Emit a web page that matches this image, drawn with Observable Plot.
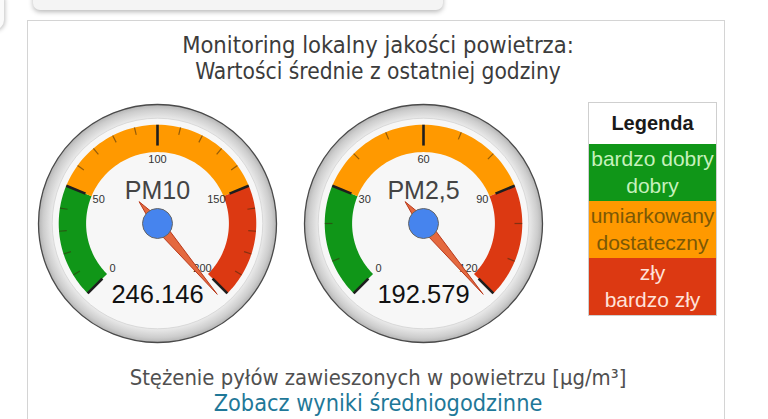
<!DOCTYPE html>
<html>
<head>
<meta charset="utf-8">
<script src="https://cdn.jsdelivr.net/npm/d3@7"></script>
<script src="https://cdn.jsdelivr.net/npm/@observablehq/plot@0.6"></script>
<style>
html,body{margin:0;padding:0;background:#fff;}
body{width:768px;height:419px;overflow:hidden;position:relative;font-family:"DejaVu Sans Condensed","DejaVu Sans",sans-serif;}
#topbar{position:absolute;left:33px;top:-22px;width:410px;height:32px;background:#f4f4f4;border-radius:7px;box-shadow:0 2px 5px rgba(0,0,0,0.28);}
#leftbit{position:absolute;left:-32px;top:-10px;width:36px;height:40px;border-radius:10px;background:#fafafa;box-shadow:1px 1px 4px rgba(0,0,0,0.25);}
#frame{position:absolute;left:27px;top:20px;width:698px;height:430px;border:1px solid #d4d4d4;box-sizing:border-box;}
.t{position:absolute;left:0;width:756px;text-align:center;white-space:nowrap;height:24px;line-height:24px;}
.t span{display:inline-block;}
#chart{position:absolute;left:24px;top:98px;}
#legend{position:absolute;left:588px;top:102px;width:129px;border:1px solid #cfcfcf;box-sizing:border-box;font-family:"Liberation Sans",Arial,sans-serif;text-align:center;white-space:nowrap;}
#legend .h{height:41px;line-height:41px;background:#fff;color:#1a1a1a;font-size:20px;font-weight:bold;}
#legend .c{height:57px;display:flex;flex-direction:column;justify-content:center;font-size:21px;line-height:26.5px;overflow:visible;}
</style>
</head>
<body>
<div id="topbar"></div>
<div id="leftbit"></div>
<div id="frame"></div>
<div class="t" id="t1" style="top:33px;color:#3c3c3c;"><span></span></div>
<div class="t" id="t2" style="top:59px;color:#3c3c3c;"><span></span></div>
<div id="chart"></div>
<div id="legend"></div>
<div class="t" id="c1" style="top:366px;color:#505050;"><span></span></div>
<div class="t" id="c2" style="top:391px;color:#1f7898;"><span></span></div>
<script>
// ---- data ----
const titleLines = ["Monitoring lokalny jakości powietrza:", "Wartości średnie z ostatniej godziny"];
const captionText = "Stężenie pyłów zawieszonych w powietrzu [µg/m³]";
const linkText = "Zobacz wyniki średniogodzinne";
const gauges = ["PM10", "PM2,5"];
const values = [246.146, 192.579];
const maxima = [200, 120];
const greenTo = [50, 30];
const redFrom = [150, 90];
const majorTicks = [[0, 50, 100, 150, 200], [0, 30, 60, 90, 120]];
const minorStep = [10, 10];
const bandColors = ["#109618", "#ff9900", "#dc3912"];
const legendTitle = "Legenda";
const legendLines = [["bardzo dobry", "dobry"], ["umiarkowany", "dostateczny"], ["zły", "bardzo zły"]];
const legendTextColors = ["#c6f1bd", "#7b5806", "#ffe2d9"];

// ---- texts ----
const setT = (id, txt, target, size) => {
  const s = document.querySelector("#" + id + " span");
  s.textContent = txt;
  s.style.fontSize = size + "px";
  const w = s.getBoundingClientRect().width;
  if (target && w > 0) s.style.fontSize = (size * target / w) + "px";
};
setT("t1", titleLines[0], 392, 17);
setT("t2", titleLines[1], 366, 17);
setT("c1", captionText, 497, 17);
setT("c2", linkText, 329, 17);

// ---- legend ----
const leg = document.getElementById("legend");
let html = `<div class="h">${legendTitle}</div>`;
legendLines.forEach((lines, i) => {
  html += `<div class="c" style="background:${bandColors[i]};color:${legendTextColors[i]}">${lines.map(l => `<div>${l}</div>`).join("")}</div>`;
});
leg.innerHTML = html;

// ---- gauge geometry (unit = outer radius) ----
const R = 119;              // px per unit
const XH = 133 / R, YH = 125 / R;
const BAND_IN = 0.6, BAND_OUT = 0.83, MAJOR_IN = 0.655, MINOR_IN = 0.765, LABEL_R = 0.535;
const ang = (v, max) => (-135 + 270 * v / max) * Math.PI / 180;
const pt = (v, max, r) => [r * Math.sin(ang(v, max)), r * Math.cos(ang(v, max))];

const gaugeRows = gauges.map((g, i) => ({g, value: values[i], max: maxima[i], cx: 0, cy: 0, ny: 0.275, vy: -0.6}));

const bandRows = [];
gauges.forEach((g, i) => {
  const edges = [0, greenTo[i], redFrom[i], maxima[i]];
  for (let b = 0; b < 3; b++) {
    const id = g + "-" + b, n = 60;
    for (let k = 0; k <= n; k++) {
      const v = edges[b] + (edges[b + 1] - edges[b]) * k / n;
      const [x, y] = pt(v, maxima[i], BAND_OUT);
      bandRows.push({g, id, x, y, color: bandColors[b]});
    }
    for (let k = n; k >= 0; k--) {
      const v = edges[b] + (edges[b + 1] - edges[b]) * k / n;
      const [x, y] = pt(v, maxima[i], BAND_IN);
      bandRows.push({g, id, x, y, color: bandColors[b]});
    }
  }
});

const majorRows = [], minorRows = [];
gauges.forEach((g, i) => {
  const m = maxima[i];
  majorTicks[i].forEach(v => {
    const [x1, y1] = pt(v, m, MAJOR_IN), [x2, y2] = pt(v, m, BAND_OUT), [lx, ly] = pt(v, m, LABEL_R);
    majorRows.push({g, v, x1, y1, x2, y2, lx, ly, label: String(v)});
  });
  for (let v = minorStep[i]; v < m; v += minorStep[i]) {
    if (majorTicks[i].includes(v)) continue;
    const [x1, y1] = pt(v, m, MINOR_IN), [x2, y2] = pt(v, m, BAND_OUT);
    minorRows.push({g, v, x1, y1, x2, y2});
  }
});

const needleRows = [];
gauges.forEach((g, i) => {
  const t = ang(Math.min(values[i], maxima[i] * 1.018), maxima[i]);
  const d = [Math.sin(t), Math.cos(t)], p = [Math.cos(t), -Math.sin(t)];
  const shape = [[0.775, 0], [0, 0.045], [-0.24, 0], [0, -0.045], [0.775, 0]];
  shape.forEach(([a, b]) => needleRows.push({g, x: a * d[0] + b * p[0], y: a * d[1] + b * p[1]}));
});

const svg = Plot.plot({
  width: 532, height: 250, margin: 0,
  fx: {domain: gauges, padding: 0, axis: null},
  x: {domain: [-XH, XH], axis: null},
  y: {domain: [-YH, YH], axis: null},
  color: {type: "identity"},
  style: {background: "transparent", overflow: "visible", fontFamily: "'Liberation Sans', Arial, sans-serif"},
  marks: [
    Plot.dot(gaugeRows, {fx: "g", x: "cx", y: "cy", r: R, fill: "url(#ringGrad)", stroke: "#4a4a4a", strokeWidth: 1.3}),
    Plot.dot(gaugeRows, {fx: "g", x: "cx", y: "cy", r: R * 0.885, fill: "#f7f7f7", stroke: "#d9d9d9", strokeWidth: 1}),
    Plot.line(bandRows, {fx: "g", x: "x", y: "y", z: "id", fill: "color", stroke: "none"}),
    Plot.link(minorRows, {fx: "g", x1: "x1", y1: "y1", x2: "x2", y2: "y2", stroke: "#3a2a10", strokeOpacity: 0.55, strokeWidth: 1.2}),
    Plot.link(majorRows, {fx: "g", x1: "x1", y1: "y1", x2: "x2", y2: "y2", stroke: "#1e1e1e", strokeWidth: 2.6}),
    Plot.text(majorRows, {fx: "g", x: "lx", y: "ly", text: "label", fontSize: 11, fill: "#333"}),
    Plot.text(gaugeRows, {fx: "g", x: "cx", y: "ny", text: "g", fontSize: 25, fill: "#444"}),
    Plot.text(gaugeRows, {fx: "g", x: "cx", y: "vy", text: d => d.value.toFixed(3), fontSize: 25.5, fill: "#111"}),
    Plot.line(needleRows, {fx: "g", x: "x", y: "y", z: "g", fill: "#e4693f", stroke: "#b9391b", strokeWidth: 1}),
    Plot.dot(gaugeRows, {fx: "g", x: "cx", y: "cy", r: 15, fill: "#4684ee", stroke: "#666", strokeWidth: 1})
  ]
});
svg.insertAdjacentHTML("afterbegin",
  `<defs><radialGradient id="ringGrad" cx="50%" cy="50%" r="50%">
     <stop offset="0.86" stop-color="#f3f3f3"/>
     <stop offset="0.9" stop-color="#e4e4e4"/>
     <stop offset="0.96" stop-color="#cdcdcd"/>
     <stop offset="1" stop-color="#b4b4b4"/>
   </radialGradient></defs>`);
document.getElementById("chart").appendChild(svg);
</script>
</body>
</html>
